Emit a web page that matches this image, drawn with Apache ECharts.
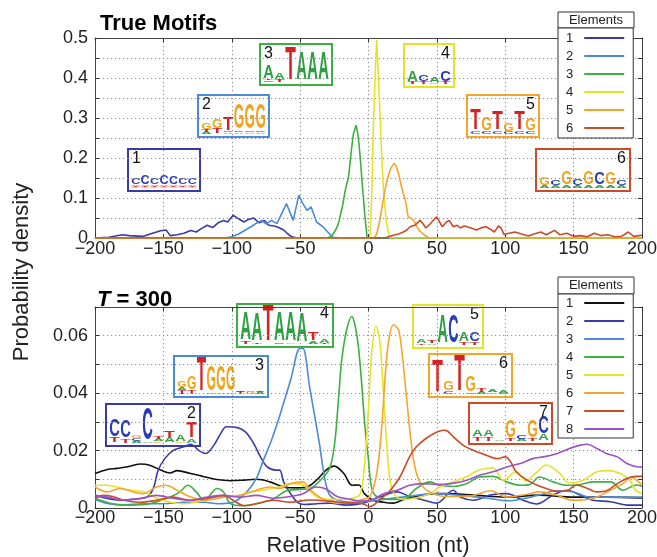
<!DOCTYPE html>
<html><head><meta charset="utf-8">
<script src="https://cdn.jsdelivr.net/npm/echarts/dist/echarts.min.js"></script>
<style>html,body{margin:0;padding:0;background:#fff}#c{width:657px;height:557px}</style>
</head><body><div id="c"></div>
<script>
// ---- axis settings ----
const xMin = -200, xMax = 200, xStep = 50;
const topYMax = 0.5, topYStep = 0.05;   // labels every 0.1
const botYMax = 0.07, botYStep = 0.01;  // labels every 0.02

// ---- legend names ----
const topNames = ['1','2','3','4','5','6'];
const botNames = ['1','2','3','4','5','6','7','8'];

// ---- True Motifs series ([position, density]) ----
const top1 = [[-200,0],[-190,0.002],[-180,0.008],[-175,0.006],[-165,0.004],[-158,0.012],[-152,0.018],[-148,0.02],[-145,0.006],[-140,0.008],[-135,0.012],[-130,0.019],[-126,0.015],[-122,0.024],[-118,0.032],[-114,0.026],[-110,0.038],[-106,0.044],[-103,0.04],[-99,0.057],[-95,0.048],[-91,0.04],[-88,0.046],[-84,0.05],[-80,0.038],[-76,0.044],[-73,0.032],[-69,0.03],[-66,0.027],[-62,0.02],[-59,0.01],[-56,0.003],[-52,0],[200,0]];
const top2 = [[-200,0],[-105,0],[-100,0.003],[-95,0.01],[-90,0.02],[-85,0.03],[-82,0.037],[-78,0.044],[-75,0.035],[-71,0.044],[-67,0.036],[-64,0.057],[-60,0.086],[-58,0.069],[-55,0.044],[-51,0.107],[-48,0.086],[-45,0.069],[-42,0.078],[-38,0.04],[-33,0.027],[-29,0.012],[-26,0.002],[-20,0],[200,0]];
const top3 = [[-200,0],[-30,0],[-27,0.005],[-24,0.02],[-22,0.036],[-19,0.08],[-17,0.119],[-14.6,0.153],[-12.5,0.22],[-11,0.261],[-9,0.282],[-7.5,0.253],[-6,0.2],[-5,0.153],[-2.5,0.05],[-1,0],[200,0]];
const top4 = [[-200,0],[1,0],[2.5,0.12],[3.5,0.27],[5,0.42],[6,0.495],[7,0.42],[8.4,0.31],[10,0.18],[11,0.12],[13,0.04],[15.5,0],[200,0]];
const top5 = [[-200,0],[4,0],[6,0.01],[8.4,0.046],[10,0.08],[12,0.119],[14,0.15],[16,0.172],[18.5,0.186],[20,0.182],[22,0.16],[24,0.13],[25.5,0.11],[27,0.094],[29,0.053],[31,0.049],[33,0.045],[35,0.03],[37,0.019],[40,0.01],[44,0],[200,0]];
const top6 = [[-200,0],[12,0],[18,0.007],[22,0.01],[25.5,0.015],[28,0.02],[30.4,0.028],[34,0.032],[37.7,0.044],[40,0.035],[42,0.025],[45,0.035],[49.8,0.053],[52,0.04],[54,0.028],[57,0.04],[59,0.044],[62,0.028],[65,0.032],[67,0.025],[70,0.03],[72,0.028],[76,0.024],[79,0.02],[83,0.026],[86,0.028],[89,0.022],[92,0.015],[95,0.03],[97,0.025],[99,0.009],[103,0.012],[107,0.015],[112,0.01],[117,0.005],[121,0.01],[126,0.015],[130,0.008],[136,0.019],[140,0.008],[145,0.012],[150,0.004],[155,0.006],[160,0.003],[165,0.012],[170,0.006],[175,0.008],[180,0.003],[185,0.004],[190,0.015],[194,0.004],[200,0.007]];

// ---- T = 300 series ----
const bot1 = [[-200,0.012],[-191,0.0134],[-184,0.0138],[-177,0.0143],[-167,0.0153],[-160,0.0149],[-152,0.0132],[-145,0.0122],[-140,0.013],[-130,0.012],[-121,0.011],[-111,0.0099],[-101,0.0095],[-91,0.0097],[-82,0.010],[-72,0.0091],[-62,0.0073],[-52,0.007],[-45,0.0073],[-38,0.0097],[-31,0.0132],[-25,0.0146],[-18,0.012],[-12,0.0079],[-7,0.008],[-3,0.005],[3,0.0028],[11,0.002],[18,0.0017],[25,0.0028],[38,0.0044],[50,0.005],[57,0.005],[77,0.0045],[101,0.0038],[125,0.0045],[150,0.0038],[174,0.0038],[200,0.0035]];
const bot2 = [[-200,0.0044],[-180,0.0027],[-174,0.003],[-162,0.0038],[-157,0.0073],[-154,0.013],[-149,0.0172],[-143,0.020],[-135,0.0213],[-130,0.0222],[-124,0.020],[-119,0.019],[-113,0.0219],[-108,0.026],[-104,0.0283],[-96,0.028],[-90,0.0265],[-84,0.0225],[-79,0.0178],[-74,0.0143],[-68,0.0132],[-65,0.0132],[-62,0.009],[-57,0.005],[-52,0.002],[-47,0.0012],[-38,0.0015],[-28,0.0017],[-16,0.001],[-4,0.0017],[8,0.0038],[21,0.0056],[30,0.004],[40,0.0028],[50,0.0017],[62,0.0062],[67,0.0038],[77,0.0027],[89,0.0045],[101,0.005],[113,0.0027],[123,0.0014],[135,0.0045],[145,0.0062],[155,0.0045],[164,0.0027],[177,0.0022],[189,0.001],[200,0.001]];
const bot3 = [[-200,0.003],[-190,0.0015],[-180,0.001],[-165,0.0015],[-150,0.0015],[-135,0.002],[-120,0.002],[-110,0.0015],[-99,0.002],[-89,0.0056],[-82,0.0103],[-77,0.0165],[-71,0.0235],[-65,0.032],[-57,0.0445],[-50,0.0556],[-48,0.0556],[-43,0.042],[-38,0.0283],[-35.5,0.0213],[-33,0.0132],[-29,0.005],[-23,0.0028],[-10,0.002],[1,0.0024],[25,0.0038],[50,0.005],[65,0.0045],[89,0.0033],[101,0.0025],[125,0.0045],[137,0.006],[150,0.0056],[162,0.0038],[180,0.0038],[200,0.0038]];
const bot4 = [[-200,0.0034],[-187,0.0015],[-174,0.001],[-160,0.0015],[-145,0.0038],[-138,0.0056],[-132,0.0079],[-126,0.0056],[-120,0.0026],[-114,0.0056],[-111,0.0068],[-106,0.0056],[-101,0.0015],[-92,0.0008],[-82,0.0015],[-70,0.003],[-60,0.006],[-50,0.0065],[-43,0.0068],[-33,0.0108],[-28,0.0143],[-24.5,0.0236],[-22,0.0376],[-19.6,0.0515],[-16,0.062],[-12.3,0.0667],[-10,0.064],[-7.4,0.0562],[-5,0.0434],[-2.6,0.0283],[0,0.0166],[2.3,0.007],[6,0.004],[16,0.003],[25,0.003],[35,0.0068],[45,0.0091],[52,0.0079],[62,0.0075],[72,0.0085],[81,0.0108],[91,0.011],[101,0.0091],[111,0.0079],[118,0.0082],[125,0.0108],[135,0.0091],[145,0.0079],[155,0.0082],[164,0.0091],[177,0.0091],[186,0.0062],[196,0.008],[200,0.0075]];
const bot5 = [[-200,0.0079],[-192,0.0079],[-184,0.0073],[-174,0.0062],[-164,0.0056],[-155,0.0034],[-145,0.002],[-135,0.0015],[-126,0.002],[-116,0.0034],[-106,0.0038],[-96,0.0042],[-87,0.0056],[-77,0.0062],[-65,0.0073],[-57,0.0085],[-48,0.008],[-38,0.004],[-28,0.003],[-18,0.003],[-11,0.0035],[-6,0.005],[-2.6,0.0166],[0,0.035],[2.3,0.0539],[5.5,0.0632],[8.4,0.0574],[10.8,0.041],[13.3,0.0225],[15.7,0.0097],[19.4,0.0044],[25.5,0.003],[35,0.0035],[45,0.005],[52,0.0073],[62,0.0091],[72,0.011],[81,0.0132],[91,0.014],[98.6,0.0097],[108,0.0126],[115,0.0095],[122,0.012],[130,0.015],[140,0.012],[147,0.0087],[157,0.0097],[167,0.0126],[176,0.013],[184,0.012],[191,0.0097],[195,0.0063],[200,0.005]];
const bot6 = [[-200,0.0073],[-191,0.0056],[-182,0.0068],[-172,0.0056],[-165,0.005],[-155,0.0073],[-148,0.0079],[-140,0.0062],[-130,0.0038],[-118,0.0027],[-106,0.0038],[-94,0.0044],[-82,0.0062],[-72,0.0073],[-65,0.0068],[-57,0.0085],[-48,0.0091],[-43,0.0065],[-33,0.003],[-23,0.0017],[-13,0.002],[-4,0.003],[1,0.004],[6,0.012],[9.7,0.0283],[12,0.0446],[14.5,0.0574],[18.2,0.0638],[21.9,0.062],[24.3,0.055],[28,0.0376],[31.6,0.0213],[35,0.0122],[40,0.0073],[47,0.005],[55,0.004],[75,0.0042],[89,0.006],[101,0.0038],[116,0.0048],[125,0.0056],[137,0.0045],[150,0.0027],[164,0.0033],[177,0.0062],[186,0.0085],[192,0.0108],[196,0.0097],[200,0.008]];
const bot7 = [[-200,0.0033],[-194,0.0044],[-187,0.004],[-179,0.0027],[-167,0.002],[-155,0.0027],[-143,0.0038],[-130,0.0027],[-118,0.0033],[-106,0.0044],[-99,0.0027],[-91,0.0008],[-82,0.0015],[-70,0.0027],[-57,0.002],[-43,0.0028],[-28,0.0024],[-16,0.0017],[-6,0.0017],[1,0.0005],[8,0.0028],[16,0.0062],[23,0.0108],[30,0.0178],[35,0.0213],[42,0.0242],[50,0.0265],[55,0.0271],[57,0.027],[62,0.0248],[69,0.0219],[77,0.020],[86,0.0184],[94,0.0172],[100,0.0178],[104,0.016],[108,0.0126],[116,0.0097],[123,0.008],[130,0.0068],[138,0.0058],[145,0.006],[152,0.008],[160,0.0068],[167,0.0056],[174,0.006],[182,0.0085],[189,0.0103],[196,0.011],[200,0.011]];
const bot8 = [[-200,0.0044],[-191,0.0038],[-179,0.0027],[-167,0.0033],[-155,0.0044],[-143,0.0034],[-130,0.0027],[-118,0.0038],[-106,0.0044],[-94,0.0038],[-82,0.0044],[-70,0.0034],[-57,0.004],[-48,0.005],[-38,0.0073],[-31,0.0066],[-23,0.004],[-13,0.003],[-4,0.0024],[3.5,0.003],[11,0.005],[21,0.0062],[30,0.0079],[40,0.0085],[50,0.0082],[60,0.0085],[72,0.0097],[81,0.0114],[91,0.0126],[101,0.0143],[111,0.0155],[120,0.0172],[128,0.0178],[138,0.019],[147,0.0207],[155,0.0219],[160,0.0222],[167,0.0207],[174,0.019],[182,0.0178],[189,0.0155],[198,0.0143],[200,0.0143]];

const topData = [top1, top2, top3, top4, top5, top6];
const botData = [bot1, bot2, bot3, bot4, bot5, bot6, bot7, bot8];

// ---- styles ----
const C = {navy:'#3b3ba8', blue:'#4a8ad8', green:'#3cb043', yellow:'#e6e22a', orange:'#f6a52c', red:'#cc4b27', purple:'#9a52c8', black:'#111111'};
const topColors = [C.navy, C.blue, C.green, C.yellow, C.orange, C.red];
const botColors = [C.black, C.navy, C.blue, C.green, C.yellow, C.orange, C.red, C.purple];
const FONT = '"Liberation Sans", Arial, sans-serif';

// ---- motif logos (annotation images) ----
const LETTER_COLOR = {A:'#2ea043', C:'#2a3cb4', G:'#f2a31b', T:'#d42222'};
const LETTER_W = {A:0.72, C:0.72, G:0.78, T:0.61};
const logos = [
  // True Motifs
  {box:[128,149,72,42], color:C.navy, num:'1', side:'left', cols:[
    [['G',1.3],['T',1],['A',1],['C',6]], [['G',1.3],['T',1],['A',1],['C',10]], [['G',1.3],['T',1],['A',1],['C',7]],
    [['G',1.3],['T',1],['A',1],['C',10]], [['G',1.3],['T',1],['A',1],['C',8]], [['G',1.3],['T',1],['A',1],['C',7]], [['G',1.3],['T',1],['A',1],['C',6]]]},
  {box:[198,95,71,42], color:C.blue, num:'2', side:'left', cols:[
    [['A',2],['T',2],['G',6]], [['T',5],['G',9]], [['A',1.5],['C',1.5],['T',13]],
    [['A',1.5],['C',1.5],['G',26]], [['A',1.5],['C',1.5],['G',26]], [['A',1.5],['C',1.5],['G',26]]]},
  {box:[260,44,72,41], color:C.green, num:'3', side:'left', cols:[
    [['C',1.5],['T',1.5],['A',13]], [['T',2],['A',7]], [['T',34]], [['A',28]], [['A',28]], [['A',28]]]},
  {box:[404,44,50,43], color:C.yellow, num:'4', side:'right', cols:[
    [['T',2],['A',11]], [['T',2],['C',6]], [['G',1.5],['A',5]], [['T',2],['C',11]]]},
  {box:[467,95,72,42], color:C.orange, num:'5', side:'right', cols:[
    [['C',3],['T',21]], [['C',2.5],['G',13]], [['C',3],['T',19]], [['C',2],['G',8]], [['C',3],['T',19]], [['C',3],['G',12]]]},
  {box:[536,149,94,42], color:C.red, num:'6', side:'right', cols:[
    [['A',2.5],['G',8]], [['A',2.5],['C',5]], [['A',2.5],['G',13]], [['A',2.5],['C',6]],
    [['A',2.5],['G',13]], [['A',2.5],['C',12]], [['A',2.5],['G',12]], [['A',2.5],['C',5]]]},
  // T = 300
  {box:[106,404,94,42], color:C.navy, num:'2', side:'right', cols:[
    [['T',5],['C',18]], [['T',4],['C',17]], [['A',2],['C',3],['G',3]], [['A',1],['C',32]],
    [['G',1.5],['A',2],['T',2]], [['A',5],['T',6]], [['G',1.5],['A',7]], [['A',4],['T',16]]]},
  {box:[174,356,94,41], color:C.blue, num:'3', side:'right', cols:[
    [['T',4],['A',2],['G',6]], [['T',4],['G',13]], [['T',35]], [['A',1],['G',25]], [['A',1],['G',25]],
    [['A',1],['G',25]], [['T',2],['C',1.5]], [['G',2],['A',1.5]], [['A',2],['C',1]]]},
  {box:[237,304,96,43], color:C.green, num:'4', side:'right', cols:[
    [['T',2],['A',28]], [['T',1.5],['A',28]], [['T',37]], [['C',1],['A',29]], [['G',1],['A',29]], [['A',29]],
    [['A',3],['T',8]], [['T',1],['A',4]]]},
  {box:[413,305,70,43], color:C.yellow, num:'5', side:'right', cols:[
    [['T',1.5],['A',4]], [['A',1.5],['T',3]], [['A',28]], [['C',28]], [['T',3],['A',9]], [['T',3],['C',10]]]},
  {box:[429,354,83,43], color:C.orange, num:'6', side:'right', cols:[
    [['T',33]], [['C',3],['G',10]], [['T',37]], [['C',1.5],['G',16]], [['A',2],['T',4]], [['G',1.5],['A',3]], [['C',1],['A',3]]]},
  {box:[469,403,83,41], color:C.red, num:'7', side:'right', cols:[
    [['T',4],['A',6]], [['T',4],['A',6]], [['A',1]], [['T',2],['G',18]], [['A',2],['C',4]], [['T',2],['G',18]], [['A',6],['C',18]]]}
];

function logoGraphic(lg) {
  const [bx, by, bw, bh] = lg.box;
  const children = [{type:'rect', shape:{x:bx, y:by, width:bw, height:bh},
    style:{fill:'#fff', stroke:lg.color, lineWidth:2}}];
  const pad = 3, cw = (bw - 2*pad) / lg.cols.length, base = by + bh - 3, S = 20;
  lg.cols.forEach((col, i) => {
    let off = 0; const cx = bx + pad + cw*(i + 0.5);
    col.forEach(([L, h]) => {
      const sy = h / (0.73*S), sx = cw*0.96 / (LETTER_W[L]*S);
      children.push({type:'text', x:cx, y:base - off - h/2 + 0.015*S*sy, scaleX:sx, scaleY:sy,
        style:{text:L, font:'bold 20px ' + FONT, fill:LETTER_COLOR[L], align:'center', verticalAlign:'middle'}});
      off += h;
    });
  });
  children.push({type:'text', x: lg.side === 'left' ? bx + 4 : bx + bw - 4, y: by + 2,
    style:{text:lg.num, font:'16px ' + FONT, fill:'#111', align:lg.side, verticalAlign:'top'}});
  return {type:'group', z:100, children};
}

const fmtX = v => v < 0 ? '\u2212' + Math.abs(v) : String(v);
const fmtTopY = v => { const k = Math.round(v*100); if (k % 10) return ''; return k === 0 ? '0' : (k/100).toFixed(1); };
const fmtBotY = v => { const k = Math.round(v*1000); if (k % 20) return ''; return k === 0 ? '0' : (k/1000).toFixed(2); };

const labelStyle = {color:'#222', fontSize:18, fontFamily:FONT};
const gridLineStyle = {color:'#8a8a8a', type:[1.2, 2.8], width:1};

function xAx(gi, pos, showLabel, margin) {
  return {type:'value', gridIndex:gi, position:pos, min:xMin, max:xMax, interval:xStep,
    axisLine:{show:true, onZero:false, lineStyle:{color:'#444', width:1}},
    axisTick:{show:true, inside:true, length:4, lineStyle:{color:'#333', width:1}},
    splitLine:{show:showLabel, lineStyle:gridLineStyle},
    axisLabel: showLabel ? Object.assign({show:true, formatter:fmtX, margin:margin}, labelStyle) : {show:false}};
}
function yAx(gi, pos, max, step, fmt, showLabel) {
  return {type:'value', gridIndex:gi, position:pos, min:0, max:max, interval:step,
    axisLine:{show:true, onZero:false, lineStyle:{color:'#444', width:1}},
    axisTick:{show:true, inside:true, length:4, lineStyle:{color:'#333', width:1}},
    splitLine:{show:showLabel, lineStyle:gridLineStyle},
    axisLabel: showLabel ? Object.assign({show:true, formatter:fmt, margin:7, showMaxLabel:true}, labelStyle) : {show:false}};
}

const series = [];
topData.forEach((d, i) => series.push({name:'A' + topNames[i], type:'line', xAxisIndex:0, yAxisIndex:0,
  data:d, showSymbol:false, symbol:'none', color:topColors[i], lineStyle:{width:1.6}, z:2}));
botData.forEach((d, i) => series.push({name:'B' + botNames[i], type:'line', xAxisIndex:2, yAxisIndex:2,
  data:d, showSymbol:false, symbol:'none', smooth:0.35, color:botColors[i], lineStyle:{width:1.6}, z:2}));

const legendBase = {orient:'vertical', left:558, icon:'rect', itemWidth:40, itemHeight:2, itemGap:4,
  align:'right', backgroundColor:'#fff', borderColor:'#333', borderWidth:1, borderRadius:0,
  selectedMode:false, formatter: n => n.slice(1), z:50,
  textStyle:{fontSize:13, lineHeight:14, color:'#222', fontFamily:FONT, padding:[0,6,0,0]}};

const graphics = logos.map(logoGraphic);
graphics.push(
  {type:'group', z:60, children:[
    {type:'rect', shape:{x:558, y:12, width:76, height:16}, style:{fill:'#fff', stroke:'#333', lineWidth:1}},
    {type:'text', x:596, y:20, style:{text:'Elements', font:'13px ' + FONT, fill:'#222', align:'center', verticalAlign:'middle'}},
    {type:'rect', shape:{x:558, y:277, width:76, height:17}, style:{fill:'#fff', stroke:'#333', lineWidth:1}},
    {type:'text', x:596, y:285.5, style:{text:'Elements', font:'13px ' + FONT, fill:'#222', align:'center', verticalAlign:'middle'}}
  ]},
  {type:'text', z:60, x:100, y:24, style:{text:'True Motifs', font:'bold 22px ' + FONT, fill:'#000', verticalAlign:'middle'}},
  {type:'text', z:60, x:97, y:300, style:{text:'{i|T} = 300', font:'bold 22px ' + FONT, fill:'#000', verticalAlign:'middle',
    rich:{i:{fontStyle:'italic', fontWeight:'bold', fontSize:22, fontFamily:FONT, fill:'#000'}}}},
  {type:'text', z:60, x:22, y:272, rotation:Math.PI/2, style:{text:'Probability density', font:'22px ' + FONT, fill:'#222', align:'center', verticalAlign:'middle'}},
  {type:'text', z:60, x:368, y:546, style:{text:'Relative Position (nt)', font:'22px ' + FONT, fill:'#222', align:'center', verticalAlign:'middle'}}
);

const chart = echarts.init(document.getElementById('c'), null, {renderer:'canvas'});
chart.setOption({
  animation:false,
  backgroundColor:'#fff',
  grid:[
    {left:95, top:38, width:547, height:200, show:false, containLabel:false, outerBoundsMode:'none'},
    {left:95, top:307, width:547, height:201, show:false, containLabel:false, outerBoundsMode:'none'}
  ],
  xAxis:[xAx(0,'bottom',true,2), xAx(0,'top',false), xAx(1,'bottom',true,1), xAx(1,'top',false)],
  yAxis:[yAx(0,'left',topYMax,topYStep,fmtTopY,true), yAx(0,'right',topYMax,topYStep,null,false),
         yAx(1,'left',botYMax,botYStep,fmtBotY,true), yAx(1,'right',botYMax,botYStep,null,false)],
  legend:[
    Object.assign({}, legendBase, {top:28, padding:[3,9,3,8], data: topNames.map(n => 'A' + n)}),
    Object.assign({}, legendBase, {top:294, padding:[2,9,2,8], data: botNames.map(n => 'B' + n)})
  ],
  series: series,
  graphic: graphics
});
</script>
</body></html>
